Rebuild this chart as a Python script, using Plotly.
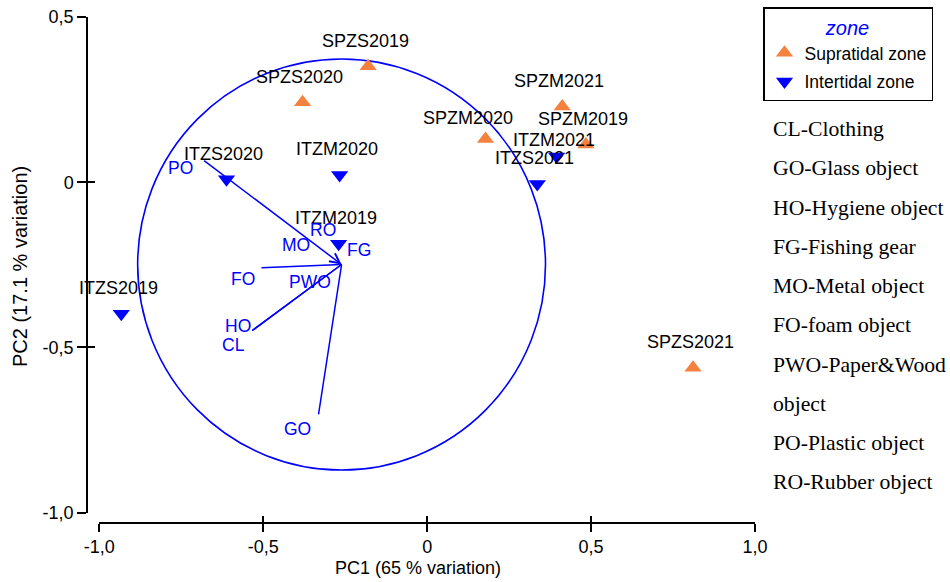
import plotly.graph_objects as go

# ---- sample scores on the first two principal components ----
supra_names = ["SPZS2019", "SPZS2020", "SPZS2021", "SPZM2019", "SPZM2020", "SPZM2021"]
supra_pc1 = [-0.180, -0.380, 0.811, 0.484, 0.178, 0.412]
supra_pc2 = [0.351, 0.242, -0.561, 0.114, 0.131, 0.229]

inter_names = ["ITZS2019", "ITZS2020", "ITZS2021", "ITZM2019", "ITZM2020", "ITZM2021"]
inter_pc1 = [-0.933, -0.612, 0.336, -0.270, -0.267, 0.395]
inter_pc2 = [-0.398, 0.009, -0.005, -0.186, 0.022, 0.078]

# ---- litter-category vectors ----
vec_origin_pc1 = -0.261
vec_origin_pc2 = -0.249
vec_names = ["PO", "FO", "HO", "CL", "GO", "MO", "RO", "FG", "PWO"]
vec_tip_pc1 = [-0.685, -0.510, -0.538, -0.538, -0.332, -0.261, -0.261, -0.261, -0.261]
vec_tip_pc2 = [0.069, -0.259, -0.452, -0.452, -0.707, -0.249, -0.249, -0.249, -0.249]
vec_label_pc1 = [-0.752, -0.563, -0.576, -0.590, -0.394, -0.399, -0.318, -0.209, -0.356]
vec_label_pc2 = [0.044, -0.294, -0.436, -0.493, -0.746, -0.189, -0.145, -0.204, -0.301]
circle_radius = 0.622

# ---- axes ----
x_tickvals = [-1.0, -0.5, 0.0, 0.5, 1.0]
x_ticktext = ["-1,0", "-0,5", "0", "0,5", "1,0"]
y_tickvals = [-1.0, -0.5, 0.0, 0.5]
y_ticktext = ["-1,0", "-0,5", "0", "0,5"]

# ---- key to category abbreviations ----
key_lines = ["CL-Clothing", "GO-Glass object", "HO-Hygiene object", "FG-Fishing gear",
             "MO-Metal object", "FO-foam object", "PWO-Paper&amp;Wood", "object",
             "PO-Plastic object", "RO-Rubber object"]

ORANGE = "#F5813F"
BLUE = "#0000FF"
SANS = "Liberation Sans, Arial, sans-serif"
SERIF = "Liberation Serif, Times New Roman, serif"

W, H = 950, 582
ML, MR, MT, MB = 87, 195, 17, 59
PW, PH = W - ML - MR, H - MT - MB


def paper_x(px):
    return (px - ML) / PW


def paper_y(py):
    return (H - MB - py) / PH


fig = go.Figure()

fig.add_trace(go.Scatter(
    x=supra_pc1, y=supra_pc2, mode="markers", name="Supratidal zone",
    legendgroup="supra",
    marker=dict(symbol="triangle-up", size=15, color=ORANGE, line=dict(width=0)),
))
fig.add_trace(go.Scatter(
    x=inter_pc1, y=inter_pc2, mode="markers", name="Intertidal zone",
    legendgroup="inter",
    marker=dict(symbol="triangle-down", size=15, color=BLUE, line=dict(width=0)),
))
# carrier trace for the overlaid tick axes
fig.add_trace(go.Scatter(x=[None], y=[None], xaxis="x2", yaxis="y2",
                         showlegend=False, hoverinfo="skip"))

annotations = []

# sample labels above each marker
label_nudge = {"SPZM2020": (-17.5, 20.7), "ITZM2021": (-3, 16.4)}
for names, xs, ys in ((supra_names, supra_pc1, supra_pc2),
                      (inter_names, inter_pc1, inter_pc2)):
    for n, xv, yv in zip(names, xs, ys):
        dx, dy = label_nudge.get(n, (-3, 25.5))
        annotations.append(dict(
            x=xv, y=yv, xref="x", yref="y", text=n, showarrow=False,
            xshift=dx, yshift=dy, xanchor="center", yanchor="middle",
            font=dict(family=SANS, size=18, color="black")))

# vectors pointing into the common origin
for n, tx, ty in zip(vec_names, vec_tip_pc1, vec_tip_pc2):
    if abs(tx - vec_origin_pc1) + abs(ty - vec_origin_pc2) < 1e-6:
        continue
    annotations.append(dict(
        x=vec_origin_pc1, y=vec_origin_pc2, xref="x", yref="y",
        ax=tx, ay=ty, axref="x", ayref="y", text="",
        showarrow=True, arrowhead=5 if n == "PO" else 0, arrowsize=1.3,
        arrowwidth=1.5, arrowcolor=BLUE, standoff=0, startstandoff=0))

for n, lx, ly in zip(vec_names, vec_label_pc1, vec_label_pc2):
    annotations.append(dict(
        x=lx, y=ly, xref="x", yref="y", text=n, showarrow=False,
        xanchor="center", yanchor="middle",
        font=dict(family=SANS, size=17.5, color=BLUE)))

# axis titles
annotations.append(dict(
    x=paper_x(418.3), y=paper_y(567.5), xref="paper", yref="paper",
    text="PC1 (65 % variation)", showarrow=False, xanchor="center", yanchor="middle",
    font=dict(family=SANS, size=18, color="black")))
annotations.append(dict(
    x=paper_x(20), y=paper_y(267), xref="paper", yref="paper",
    text="PC2 (17.1 % variation)", showarrow=False, textangle=-90,
    xanchor="center", yanchor="middle",
    font=dict(family=SANS, size=20, color="black")))

# abbreviation key on the right
for i, line in enumerate(key_lines):
    annotations.append(dict(
        x=paper_x(771), y=paper_y(129.2 + 39.22 * i), xref="paper", yref="paper",
        text=line, showarrow=False, xanchor="left", yanchor="middle",
        font=dict(family=SERIF, size=21.7, color="black")))

circle = dict(
    type="circle", xref="x", yref="y", layer="below",
    x0=vec_origin_pc1 - circle_radius, x1=vec_origin_pc1 + circle_radius,
    y0=vec_origin_pc2 - circle_radius, y1=vec_origin_pc2 + circle_radius,
    line=dict(color=BLUE, width=1.6))

x_dom = [paper_x(99.3), 1.0]
y_dom = [paper_y(512.7), 1.0]
axis_common = dict(showgrid=False, zeroline=False, automargin=False,
                   tickmode="array", tickcolor="black", tickwidth=1.5)

fig.update_layout(
    width=W, height=H,
    margin=dict(l=ML, r=MR, t=MT, b=MB, pad=0, autoexpand=False),
    template="none",
    paper_bgcolor="white", plot_bgcolor="white",
    font=dict(family=SANS, size=18, color="black"),
    xaxis=dict(**axis_common, range=[-1.0, 1.0], domain=x_dom,
               anchor="free", position=0,
               tickvals=x_tickvals, ticktext=x_ticktext,
               ticks="outside", ticklen=8,
               showline=True, linecolor="black", linewidth=1.5,
               tickfont=dict(family=SANS, size=18, color="black")),
    yaxis=dict(**axis_common, range=[-1.0, 0.5], domain=y_dom,
               anchor="free", position=0,
               tickvals=y_tickvals, ticktext=y_ticktext,
               ticks="outside", ticklen=9,
               showline=True, linecolor="black", linewidth=1.5,
               tickfont=dict(family=SANS, size=18, color="black")),
    xaxis2=dict(**axis_common, range=[-1.0, 1.0], domain=x_dom,
                overlaying="x", anchor="free", position=0,
                tickvals=x_tickvals, ticks="inside", ticklen=7,
                showticklabels=False, showline=False),
    yaxis2=dict(**axis_common, range=[-1.0, 0.5], domain=y_dom,
                overlaying="y", anchor="free", position=0,
                tickvals=y_tickvals, ticks="inside", ticklen=7,
                showticklabels=False, showline=False),
    legend=dict(
        xref="container", yref="container",
        x=763 / W, y=1 - 7.3 / H, xanchor="left", yanchor="top",
        bgcolor="white", bordercolor="black", borderwidth=1.5,
        font=dict(family=SANS, size=17.5, color="black"),
        title=dict(text="<i>zone</i>", side="top center",
                   font=dict(family=SANS, size=20, color=BLUE)),
        tracegroupgap=3, itemsizing="trace"),
    showlegend=True,
    annotations=annotations,
    shapes=[circle],
)

fig.write_html("out.html")
